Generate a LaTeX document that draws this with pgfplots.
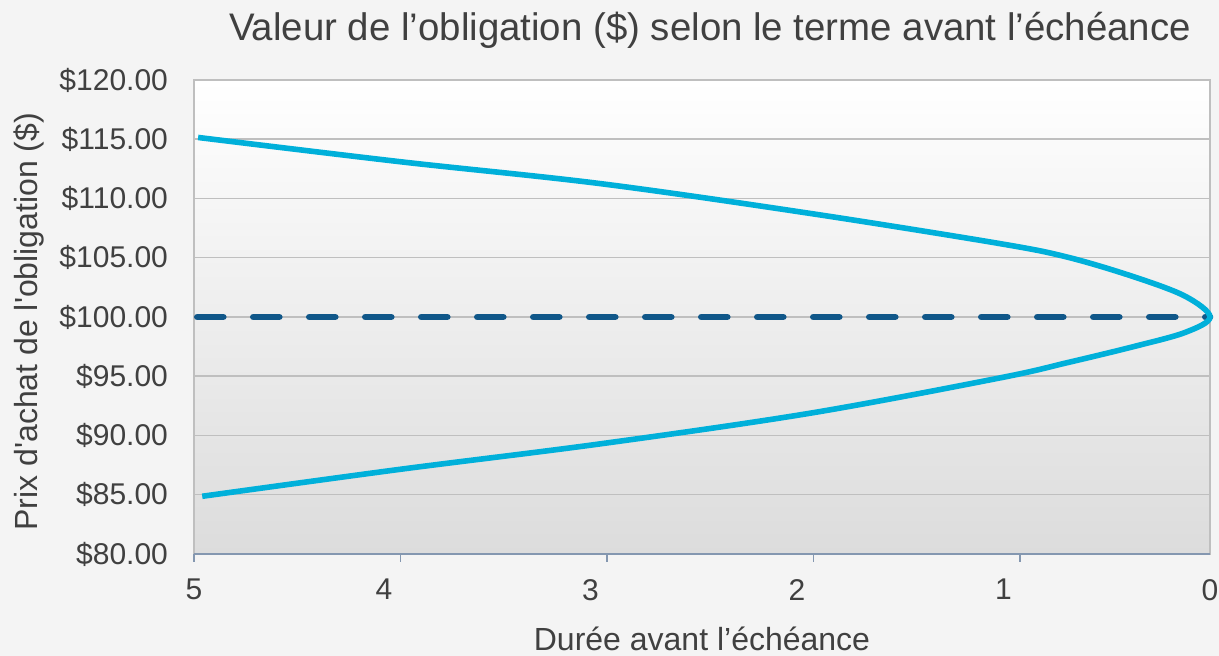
\documentclass[border=0pt]{standalone}
\usepackage{fontspec}
\setmainfont{Liberation Sans}
\newfontfamily\plainsans{Liberation Sans}
\usepackage{pgfplots}
\pgfplotsset{compat=1.18}
\definecolor{bgout}{RGB}{244,244,244}
\definecolor{gridc}{RGB}{191,191,191}
\definecolor{axblue}{RGB}{132,151,176}
\definecolor{curvec}{RGB}{0,176,218}
\definecolor{dashc}{RGB}{16,87,137}
\definecolor{txt}{RGB}{64,64,64}
\definecolor{bgbot}{RGB}{220,220,220}
\begin{document}
\begin{tikzpicture}
\fill[bgout] (0,0) rectangle (609.5pt,328pt);
\begin{axis}[
  at={(97pt,51pt)}, anchor=south west,
  scale only axis, width=508pt, height=237pt,
  xmin=0, xmax=4.92, x dir=reverse,
  ymin=80, ymax=120, ytick={80,85,...,120},
  clip=false,
  axis background/.style={top color=white, bottom color=bgbot},
  axis line style={gridc, line width=1pt},
  ymajorgrids, grid style={gridc, line width=0.75pt},
  tick pos=left,
  tick align=outside, major tick length=0pt,
  tick style={draw=axblue, line width=0.75pt},
  xtick={0,1,2,3,4,4.92}, xticklabels={0,1,2,3,4,5},
  extra x ticks={0.92,1.92,2.92,3.92,4.92},
  extra x tick labels={,,,,},
  extra x tick style={major tick length=4pt, grid=none},
  /pgf/number format/assume math mode=true,
  yticklabel={\$\pgfmathprintnumber[fixed,fixed zerofill,precision=2,1000 sep={}]{\tick}},
  tick label style={font=\fontsize{15}{18}\selectfont, text=txt},
  xticklabel style={yshift=-9pt},
  yticklabel style={xshift=-9.5pt},
  every axis title shift=0pt,
  title={Valeur de l’obligation (\$) selon le terme avant l’échéance},
  title style={font=\fontsize{19.2}{23}\selectfont, text=txt, at={(axis description cs:0.508,1.0823)}, anchor=base},
  xlabel={Durée avant l’échéance},
  xlabel style={font=\fontsize{16}{19}\selectfont, text=txt, at={(axis description cs:0.5,-0.203)}, anchor=base},
  ylabel={\plainsans Prix d'achat de l'obligation (\$)},
  ylabel style={font=\fontsize{16}{19}\selectfont, text=txt, at={(axis description cs:-0.1545,0.49)}, anchor=base},
]
\addplot[dashc, line width=3.3pt, line cap=round, dash pattern=on 13pt off 15pt] coordinates {(4.904,100) (0,100)};
\addplot[curvec, line width=2.8pt, smooth, tension=0.55] coordinates {
(4.90,115.15) (3.92,113.1) (2.95,111.25) (1.94,108.75) (1.02,106.2) (0.69,105.05) (0.37,103.4) (0.12,101.75) (0,100)
(0.12,98.7) (0.37,97.5) (0.69,96.15) (1.02,94.85) (1.94,91.87) (2.95,89.3) (3.92,87.15) (4.88,84.87)};
\draw[axblue, line width=1pt] (rel axis cs:0,0) -- (rel axis cs:1,0);
\end{axis}
\pgfresetboundingbox
\path[use as bounding box] (0,0) rectangle (609.5pt,328pt);
\end{tikzpicture}
\end{document}
